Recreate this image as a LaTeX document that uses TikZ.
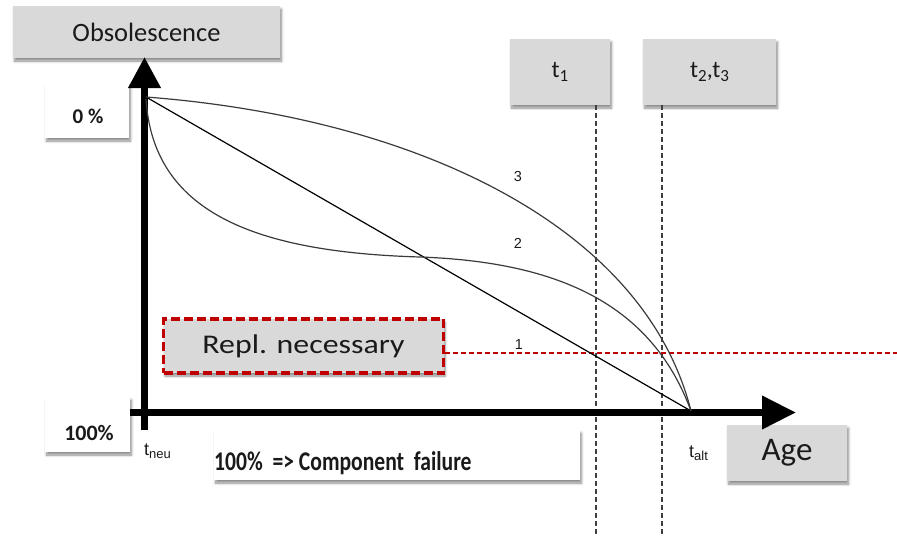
\documentclass[tikz,border=0pt]{standalone}
\usepackage{fontspec}
\setmainfont{Carlito}
\newfontfamily\arialf{Liberation Sans}
\usetikzlibrary{arrows.meta,shadows.blur}
\definecolor{boxgray}{HTML}{D9D9D9}
\definecolor{replred}{HTML}{C00000}
\definecolor{curvegray}{HTML}{3A3A3A}
\definecolor{txt}{HTML}{1A1A1A}
\newcommand\lowsub[2]{\raisebox{-#1}{#2}}
\tikzset{
  shadowed/.style={blur shadow={shadow xshift=1.5pt, shadow yshift=-3pt, shadow blur steps=6, shadow opacity=45, shadow blur radius=2.5pt}},
  graybox/.style={fill=boxgray, draw=none, shadowed, inner sep=0pt, text=txt},
  whitebox/.style={fill=white, draw=none, shadowed, inner sep=0pt},
  axis/.style={line width=7pt, black},
  curve/.style={line width=1.2pt, curvegray},
  guide/.style={line width=1.4pt, dash pattern=on 5pt off 3pt, black!75},
  lbl/.style={font=\arialf\fontsize{14.5}{16}\selectfont, text=txt, inner sep=0pt},
  plain/.style={text=txt, inner sep=0pt},
}
\begin{document}
\begin{tikzpicture}[x=1pt, y=-1pt]
\useasboundingbox (0,0) rectangle (897,536);

% boxes
\node[graybox, minimum width=267pt, minimum height=52pt, font=\fontsize{26.5}{30}\selectfont] (obs) at (146.5,32) {Obsolescence};
\node[whitebox, minimum width=84pt, minimum height=55pt] (zero) at (87,110.5) {};
\node[plain, font=\bfseries\fontsize{21}{24}\selectfont] (zerot) at (88,116) {0 \%};
\node[whitebox, minimum width=85pt, minimum height=55pt] (hundred) at (87.5,424.5) {};
\node[plain, font=\bfseries\fontsize{22}{25}\selectfont] (hundredt) at (89,433) {100\%};
\node[whitebox, minimum width=366pt, minimum height=50pt] (fail) at (397,455) {};
\node[plain, anchor=base west, font=\bfseries\fontsize{27}{30}\selectfont] (failt) at (214,470) {\scalebox{0.8}[1]{100\%\ \ =>\ Component\ \ failure}};
\node[graybox, minimum width=100pt, minimum height=66pt, font=\fontsize{24}{28}\selectfont] (t1) at (560,72) {t\lowsub{4pt}{\fontsize{17}{20}\selectfont 1}};
\node[graybox, minimum width=133pt, minimum height=66pt, font=\fontsize{24}{28}\selectfont] (t23) at (709.5,72) {t\lowsub{4pt}{\fontsize{17}{20}\selectfont 2},t\lowsub{4pt}{\fontsize{17}{20}\selectfont 3}};
\node[graybox, minimum width=120pt, minimum height=56pt, font=\fontsize{33}{38}\selectfont] (age) at (787,453) {Age};

% guide lines
\coordinate (g1) at (596,536);
\coordinate (g2) at (662,536);
\draw[guide] (t1.south -| g1) -- (g1);
\draw[guide] (t23.south -| g2) -- (g2);

% axes
\coordinate (o) at (144.5,412.5);
\coordinate (ytop) at (144.5,57);
\coordinate (ybot) at (144.5,430);
\coordinate (xend) at (796,412.5);
\draw[axis, -{Triangle[length=31pt, width=31pt]}] (ybot) -- (ytop);
\draw[axis, -{Triangle[length=34pt, width=32pt]}] (hundred.east |- o) -- (xend);

% replacement
\node[graybox, draw=replred, line width=3.5pt, dash pattern=on 9pt off 4pt, minimum width=280pt, minimum height=54pt, font=\fontsize{27}{32}\selectfont] (repl) at (303.5,346) {\scalebox{1.18}[1]{Repl. necessary}};
\coordinate (rend) at (897,353);
\draw[replred, line width=1.3pt, dash pattern=on 5pt off 3pt] (repl.east |- rend) -- (rend);

% curves
\coordinate (s) at (146,97);
\coordinate (e) at (691,411);
\draw[curve, black] (s) -- (e);
\draw[curve] (s) .. controls (420,118) and (645,228) .. (e);
\coordinate (m2) at (420,257);
\draw[curve] (146,99) .. controls (153,210) and (250,252) .. (m2) .. controls (560,262) and (652,305) .. (e);

% labels
\node[lbl] (l3) at (518,177) {3};
\node[lbl] (l2) at (518,243) {2};
\node[lbl] (l1) at (519,345) {1};
\node[plain, anchor=base west, font=\arialf\fontsize{18}{20}\selectfont] (tneu) at (144,455) {t\lowsub{3pt}{\fontsize{13}{15}\selectfont neu}};
\node[plain, anchor=base west, font=\arialf\fontsize{18}{20}\selectfont] (talt) at (689,457) {t\lowsub{3pt}{\fontsize{13}{15}\selectfont alt}};
\end{tikzpicture}
\end{document}
